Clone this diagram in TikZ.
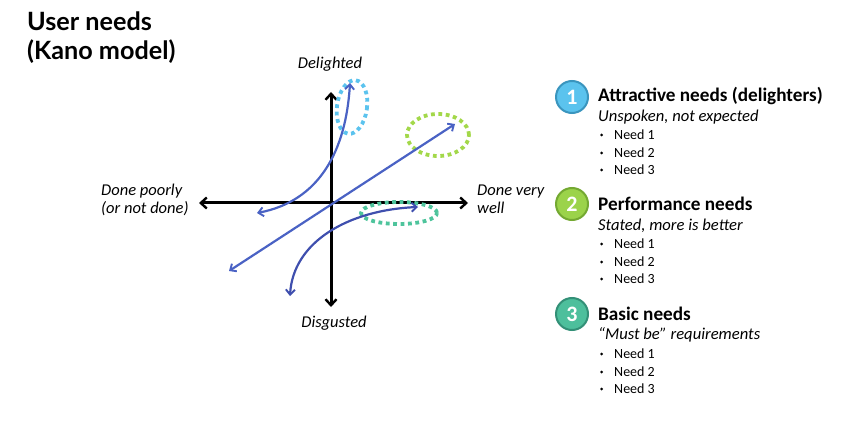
\documentclass[tikz,border=0pt]{standalone}
\usepackage{fontspec}
\setmainfont{Carlito}
\newfontfamily\titlefont{Lato}
\usetikzlibrary{arrows.meta}
\definecolor{cblue}{HTML}{4A62C4}
\definecolor{cblued}{HTML}{3F4FAE}
\definecolor{dblue}{HTML}{5BC3EE}
\definecolor{dgreen}{HTML}{A3D84A}
\definecolor{dteal}{HTML}{4EC49C}
\definecolor{c1}{HTML}{5BC3EE}
\definecolor{c1b}{HTML}{3A95BE}
\definecolor{c2}{HTML}{9BD34A}
\definecolor{c2b}{HTML}{74A932}
\definecolor{c3}{HTML}{4DBF9C}
\definecolor{c3b}{HTML}{339077}
\tikzset{
  axis/.style={line width=3pt, {Straight Barb[length=6pt,width=11pt,line width=2.4pt]}-{Straight Barb[length=6pt,width=11pt,line width=2.4pt]}},
  curve/.style={line width=2.2pt, cblue, {Straight Barb[length=5pt,width=9pt,line width=1.9pt]}-{Straight Barb[length=5pt,width=9pt,line width=1.9pt]}},
  dots/.style={line width=3.8pt, dash pattern=on 3.8pt off 3.6pt},
  axlabel/.style={font=\fontsize{16.5}{18}\selectfont\itshape, inner sep=0pt},
  num/.style={circle, minimum size=32pt, inner sep=0pt, line width=2pt, text=white, font=\fontsize{22}{22}\selectfont\bfseries},
  head/.style={anchor=west, inner sep=0pt, font=\fontsize{19.2}{22}\selectfont\bfseries},
  sub/.style={anchor=west, inner sep=0pt, font=\fontsize{16.6}{19}\selectfont\itshape},
  item/.style={anchor=west, inner sep=0pt, font=\fontsize{14}{16}\selectfont},
}
\begin{document}
\begin{tikzpicture}[x=1pt,y=-1pt]
\useasboundingbox (0,0) rectangle (842,438);
% title
\node[anchor=north west, inner sep=0pt, align=left, font=\titlefont\fontsize{25.2}{29}\selectfont\bfseries] (title) at (27,12) {User needs\\(Kano model)};
% axes
\coordinate (O) at (331,203);
\coordinate (L) at (199,203);
\coordinate (R) at (468,203);
\coordinate (T) at (331,92);
\coordinate (B) at (331,307);
\draw[axis] (L) -- (R);
\draw[axis] (B) -- (T);
% axis labels
\node[axlabel] (del) at (330,64) {Delighted};
\node[axlabel] (dis) at (334,323) {Disgusted};
\node[axlabel, anchor=west, align=left] (poor) at (101,199.5) {Done poorly\\(or not done)};
\node[axlabel, anchor=west, align=left] (well) at (477,199.5) {Done very\\well};
% dotted ellipses
\draw[dots, dblue, rotate around={-8:(352,107)}] (352,107) ellipse [x radius=15pt, y radius=27pt];
\draw[dots, dgreen] (438,135) ellipse [x radius=31pt, y radius=21pt];
\draw[dots, dteal] (399,213) ellipse [x radius=38pt, y radius=11pt];
% curves
\coordinate (p1) at (229,271);
\coordinate (p2) at (455,124);
\draw[curve] (p1) -- (p2);
\coordinate (a1) at (257,213);
\coordinate (a2) at (350,83);
\draw[curve] (a1) .. controls (320,201) and (346,150) .. (a2);
\coordinate (b1) at (290,296);
\coordinate (b2) at (418,207);
\draw[curve, cblued] (b1) .. controls (293,242) and (348,210) .. (b2);
% legend
\node[num, fill=c1, draw=c1b] (n1) at (572,97) {1};
\node[num, fill=c2, draw=c2b] (n2) at (572,204) {2};
\node[num, fill=c3, draw=c3b] (n3) at (572,314) {3};
\node[head] (h1) at (598,96) {Attractive needs (delighters)};
\node[sub] (s1) at (598,117) {Unspoken, not expected};
\node[head] (h2) at (598,204) {Performance needs};
\node[sub] (s2) at (598,226) {Stated, more is better};
\node[head] (h3) at (598,314) {Basic needs};
\node[sub] (s3) at (598,335) {“Must be” requirements};
\foreach \g/\y in {a/135,b/153,c/170,d/244,e/262,f/279,g/354,h/372,i/389}{
  \fill (601.5,\y) circle (1.5pt);
}
\node[item] (i11) at (614,135) {Need 1};
\node[item] (i12) at (614,153) {Need 2};
\node[item] (i13) at (614,170) {Need 3};
\node[item] (i21) at (614,244) {Need 1};
\node[item] (i22) at (614,262) {Need 2};
\node[item] (i23) at (614,279) {Need 3};
\node[item] (i31) at (614,354) {Need 1};
\node[item] (i32) at (614,372) {Need 2};
\node[item] (i33) at (614,389) {Need 3};
\end{tikzpicture}
\end{document}
